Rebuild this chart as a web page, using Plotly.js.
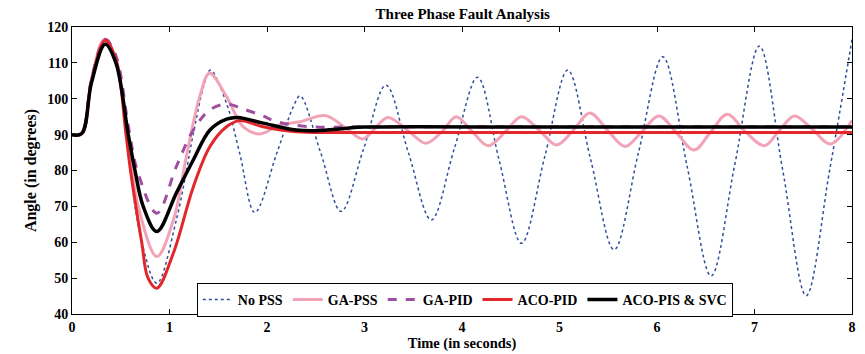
<!DOCTYPE html>
<html>
<head>
<meta charset="utf-8">
<script src="https://cdn.plot.ly/plotly-3.0.1.min.js"></script>
<style>html,body{margin:0;padding:0;background:#fff;}#chart{width:865px;height:354px;}</style>
</head>
<body>
<div id="chart"></div>
<script>
// ---- Data ----
const seriesNames = ["No PSS", "GA-PSS", "GA-PID", "ACO-PID", "ACO-PIS & SVC"];

const noPssT = [0, 0.1, 0.2, 0.33, 0.45, 0.555, 0.7, 0.87, 1.07, 1.245, 1.35, 1.42, 1.585, 1.72, 1.875, 2.1, 2.27, 2.34, 2.55, 2.76, 2.99, 3.22, 3.45, 3.685, 3.92, 4.16, 4.38, 4.61, 4.85, 5.085, 5.32, 5.56, 5.81, 6.06, 6.31, 6.555, 6.8, 7.05, 7.29, 7.53, 7.77, 8.0];
const noPssV = [90, 90.3, 105, 116, 110, 90, 62, 48.6, 66.2, 90.4, 103.4, 108, 98.7, 84.8, 68.3, 84.8, 97.8, 100.8, 85, 68.6, 86, 103.8, 85, 66.2, 86, 106.0, 83, 59.7, 84, 108.0, 83, 57.9, 85, 111.7, 81, 50.6, 82, 114.7, 80, 45.1, 80, 116.5];

const gaPssT = [0, 0.1, 0.2, 0.33, 0.45, 0.57, 0.68, 0.87, 1.04, 1.18, 1.31, 1.41, 1.585, 1.755, 1.93, 2.13, 2.34, 2.6, 2.8, 2.98, 3.1, 3.24, 3.45, 3.63, 3.8, 3.94, 4.1, 4.27, 4.45, 4.61, 4.8, 4.97, 5.15, 5.31, 5.5, 5.67, 5.85, 6.02, 6.2, 6.38, 6.55, 6.72, 6.9, 7.1, 7.25, 7.41, 7.6, 7.78, 8.0];
const gaPssV = [90, 90.3, 105.5, 116.5, 111, 90, 70, 56, 66.2, 84.8, 100.6, 107.1, 100.6, 92.2, 90.2, 92.7, 93.6, 95.3, 92, 88.8, 91.5, 94.8, 91, 87.6, 91, 95.0, 91, 86.9, 91, 95.0, 91, 87.1, 91.5, 96.0, 91, 86.7, 91, 95.2, 90.5, 85.7, 90.7, 95.7, 91, 86.9, 91, 95.2, 91.3, 87.4, 94];

const gaPidT = [0, 0.1, 0.2, 0.34, 0.45, 0.58, 0.67, 0.87, 1.07, 1.245, 1.415, 1.585, 1.75, 1.95, 2.1, 2.44, 3.0, 5.0, 8.0];
const gaPidV = [90, 90.3, 105.5, 116.6, 112, 92, 80, 68.1, 81.1, 91.3, 96.9, 98.5, 97.2, 95.3, 93.6, 92.2, 92.2, 92.2, 92.2];

const acoPidT = [0, 0.1, 0.2, 0.34, 0.45, 0.554, 0.6, 0.715, 0.78, 0.87, 1.04, 1.245, 1.415, 1.585, 1.72, 1.96, 2.3, 2.7, 3.5, 5.0, 8.0];
const acoPidV = [90, 90.3, 105, 116.3, 111, 90, 80, 60, 50, 47.2, 57.0, 75.5, 86.7, 92.2, 93.9, 92.2, 90.8, 90.6, 90.6, 90.6, 90.6];

const acoSvcT = [0, 0.1, 0.2, 0.34, 0.45, 0.577, 0.646, 0.73, 0.87, 1.07, 1.245, 1.415, 1.585, 1.70, 1.96, 2.3, 2.51, 2.82, 3.0, 5.0, 8.0];
const acoSvcV = [90, 90.3, 104.5, 115.2, 110, 90, 80, 70, 63, 73.7, 83, 91.3, 94.3, 94.8, 93.2, 91.3, 91.1, 91.8, 92.1, 92.1, 92.1];

const xTickVals = [0, 1, 2, 3, 4, 5, 6, 7, 8];
const yTickVals = [40, 50, 60, 70, 80, 90, 100, 110, 120];

// ---- Styling ----
const serif = "Liberation Serif, Times New Roman, serif";
function tr(name, t, v, color, width, dash) {
  return {x: t, y: v, name: name, type: "scatter", mode: "lines",
    line: {color: color, width: width, dash: dash, shape: "spline", smoothing: 1.0}};
}
const traces = [
  tr(seriesNames[0], noPssT, noPssV, "#2e4f9a", 1.5, "dot"),
  tr(seriesNames[1], gaPssT, gaPssV, "#f2a3b8", 3, "solid"),
  tr(seriesNames[2], gaPidT, gaPidV, "#a04fa0", 3, "dash"),
  tr(seriesNames[3], acoPidT, acoPidV, "#e3262a", 3, "solid"),
  tr(seriesNames[4], acoSvcT, acoSvcV, "#000000", 3.5, "solid")
];

const axisCommon = {showline: true, linecolor: "#000", linewidth: 1, mirror: "ticks",
  ticks: "inside", ticklen: 5, tickcolor: "#000", showgrid: false, zeroline: false,
  tickfont: {family: serif, size: 14, color: "#000", weight: "bold"}};

const layout = {
  width: 865, height: 354,
  margin: {l: 72, r: 13, t: 27, b: 40},
  paper_bgcolor: "#fff", plot_bgcolor: "#fff",
  title: {text: "Three Phase Fault Analysis", x: 0.535, xanchor: "center", y: 0.962, yanchor: "middle",
    font: {family: serif, size: 15, color: "#000", weight: "bold"}},
  xaxis: Object.assign({}, axisCommon, {range: [0, 8], tickvals: xTickVals, ticktext: xTickVals.map(String),
    title: {text: "Time (in seconds)", standoff: 2, font: {family: serif, size: 14.5, color: "#000", weight: "bold"}}}),
  yaxis: Object.assign({}, axisCommon, {range: [40, 120], tickvals: yTickVals, ticktext: yTickVals.map(String),
    title: {text: "Angle (in degrees)", standoff: 6, font: {family: serif, size: 16, color: "#000", weight: "bold"}}}),
  showlegend: true,
  legend: {orientation: "h", x: 0.16, xanchor: "left", y: 0.108, yanchor: "top",
    bgcolor: "#fff", bordercolor: "#000", borderwidth: 1,
    font: {family: serif, size: 14, color: "#000", weight: "bold"},
    itemwidth: 30, tracegroupgap: 0}
};

Plotly.newPlot("chart", traces, layout, {displayModeBar: false, staticPlot: true});
</script>
</body>
</html>
